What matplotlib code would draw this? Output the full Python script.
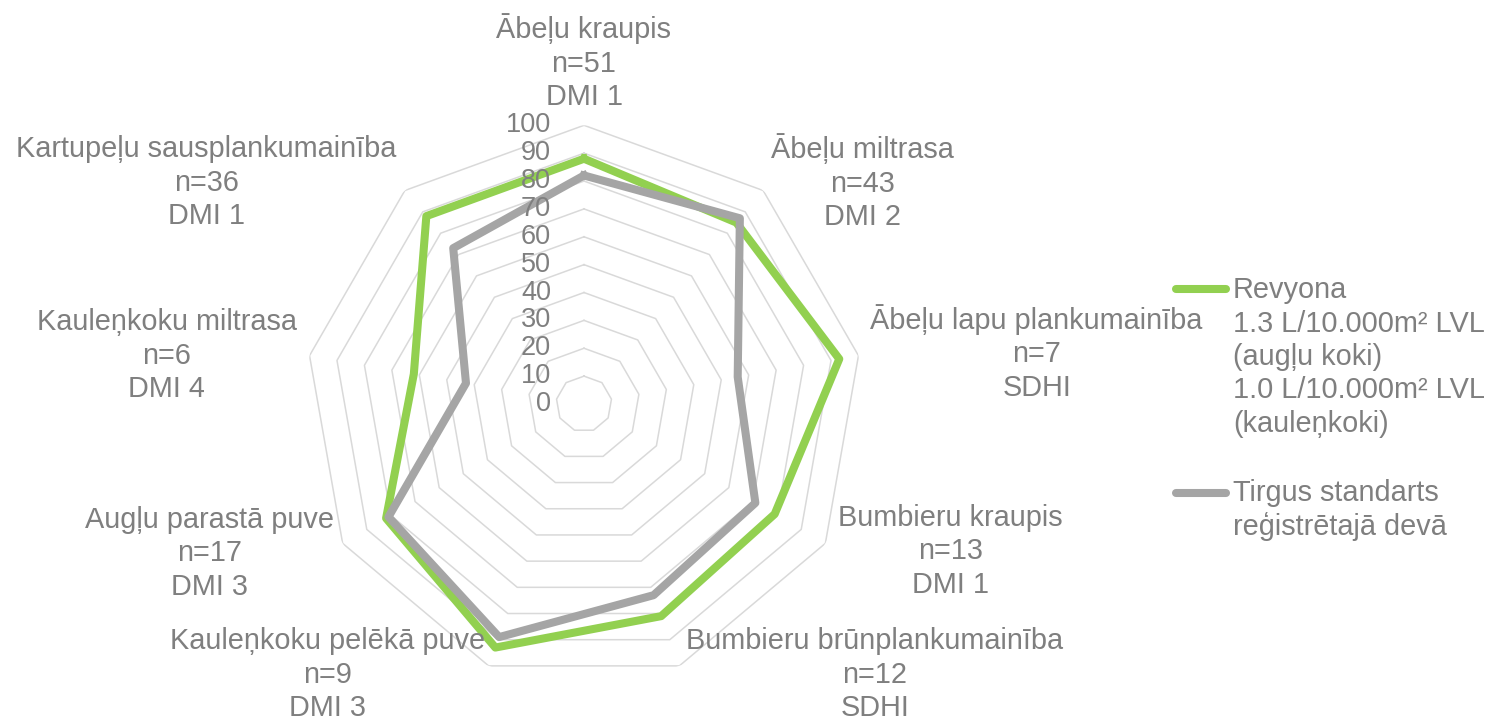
import matplotlib
matplotlib.use("Agg")
import matplotlib.pyplot as plt
import numpy as np
from matplotlib.lines import Line2D

plt.rcParams['font.family'] = ['Liberation Sans', 'DejaVu Sans']

# data
categories = [
    "Ābeļu kraupis\nn=51\nDMI 1",
    "Ābeļu miltrasa\nn=43\nDMI 2",
    "Ābeļu lapu plankumainība\nn=7\nSDHI",
    "Bumbieru kraupis\nn=13\nDMI 1",
    "Bumbieru brūnplankumainība\nn=12\nSDHI",
    "Kauleņkoku pelēkā puve\nn=9\nDMI 3",
    "Augļu parastā puve\nn=17\nDMI 3",
    "Kauleņkoku miltrasa\nn=6\nDMI 4",
    "Kartupeļu sausplankumainība\nn=36\nDMI 1",
]
revyona = [88, 85, 93, 79, 81, 93, 82, 62, 88]
standard = [82, 87, 56, 71, 73, 89, 81, 43, 73]
r_ticks = [0, 10, 20, 30, 40, 50, 60, 70, 80, 90, 100]
legend_labels = [
    "Revyona\n1.3 L/10.000m² LVL\n(augļu koki)\n1.0 L/10.000m² LVL\n(kauleņkoki)",
    "Tirgus standarts\nreģistrētajā devā",
]

GREEN = "#92D050"
GRAY = "#A5A5A5"
TXT = "#7F7F7F"
GRID = "#D9D9D9"
FS = 20.8
FS_TICK = 19.5
LS = 1.25

# pixel offsets of each category label from its outer vertex, and alignment
label_pos = [
    (0, 63, "center"),
    (8, 8, "left"),
    (12, 3, "left"),
    (13, -8, "left"),
    (7, -9, "left"),
    (-4, -9, "right"),
    (-9, -10, "right"),
    (-13, 0, "right"),
    (-8, 8, "right"),
]

W, H = 1496, 721
fig = plt.figure(figsize=(W / 100, H / 100), dpi=100)
cx, cy, rad = 584, 404, 278.7
ax = fig.add_axes([(cx - rad) / W, (H - cy - rad) / H, 2 * rad / W, 2 * rad / H],
                  projection="polar")
ax.set_theta_zero_location("N")
ax.set_theta_direction(-1)
ax.set_ylim(0, 100)
ax.axis("off")

n = len(categories)
angles = np.arange(n) * 2 * np.pi / n
closed = np.append(angles, angles[0])

# polygon grid rings
for r in r_ticks[1:]:
    ax.plot(closed, [r] * (n + 1), color=GRID, lw=1.1, zorder=1)

ax.plot(closed, revyona + revyona[:1], color=GREEN, lw=5.8,
        solid_joinstyle="round", zorder=3)
ax.plot(closed, standard + standard[:1], color=GRAY, lw=5.8,
        solid_joinstyle="round", zorder=4)

# radial tick labels
for r in r_ticks:
    ax.annotate(str(r), xy=(0, r), xytext=(-33, 0), textcoords="offset pixels",
                ha="right", va="center", fontsize=FS_TICK, color=TXT, zorder=6,
                annotation_clip=False)

# category labels
for ang, lab, (dx, dy, ha) in zip(angles, categories, label_pos):
    ax.annotate(lab, xy=(ang, 100), xytext=(dx, dy), textcoords="offset pixels",
                ha=ha, va="center", multialignment="center", fontsize=FS,
                color=TXT, linespacing=LS, annotation_clip=False)

# legend drawn by hand to match the layout
leg = [(GREEN, 289, 357), (GRAY, 493, 510)]
for (col, ly, ty), lab in zip(leg, legend_labels):
    fig.add_artist(Line2D([1176 / W, 1226 / W], [(H - ly) / H] * 2, color=col,
                          lw=5.8, solid_capstyle="round"))
    fig.text(1233 / W, (H - ty) / H, lab, ha="left", va="center", fontsize=FS,
             color=TXT, linespacing=LS)

fig.savefig("out.png", dpi=100)
